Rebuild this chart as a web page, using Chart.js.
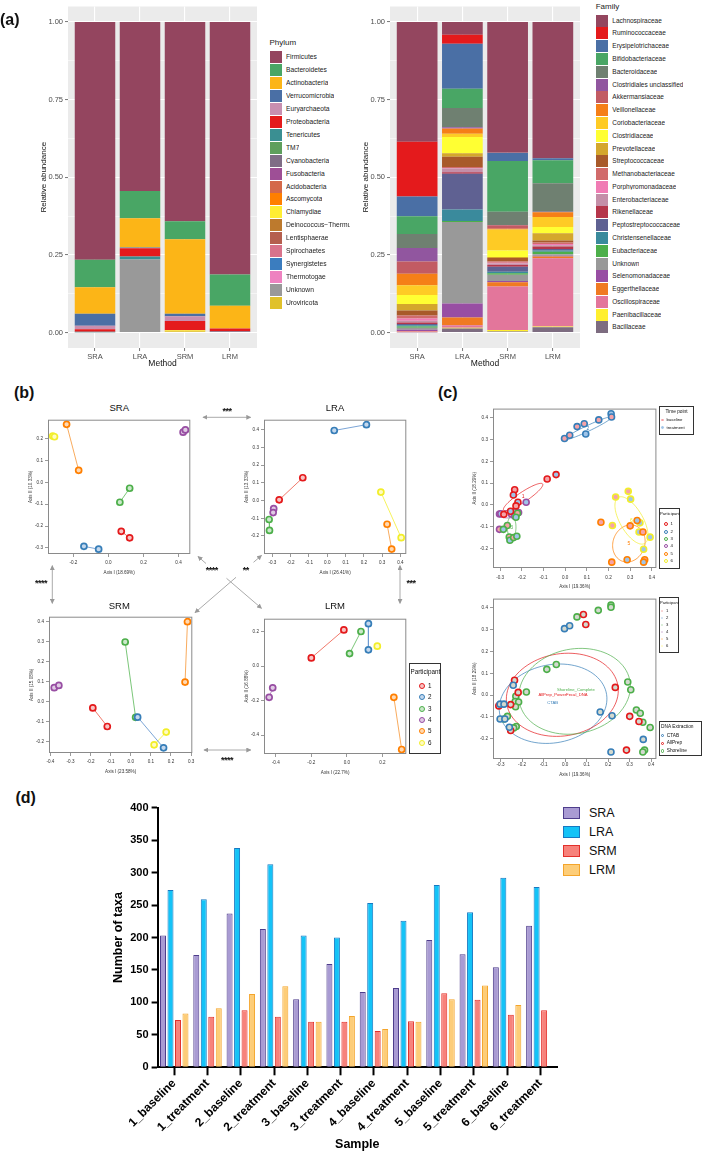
<!DOCTYPE html>
<html>
<head>
<meta charset="utf-8">
<script src="https://cdn.jsdelivr.net/npm/chart.js@4.4.1/dist/chart.umd.min.js"></script>
<style>
  body { margin: 0; background: #fff; font-family: "Liberation Sans", Arial, sans-serif; }
  #page { position: relative; width: 702px; height: 1152px; overflow: hidden; background: #fff; }
  canvas { position: absolute; }
  .t { position: absolute; white-space: nowrap; line-height: 1; color: #111; }
  .box { position: absolute; border: 1px solid #333; background: #fff; box-sizing: border-box; }
  .dot { position: absolute; border-radius: 50%; box-sizing: border-box; }
</style>
</head>
<body>
<div id="page">
  <svg id="arrows" width="702" height="1152" style="position:absolute;left:0;top:0;z-index:5;pointer-events:none">
    <defs>
      <marker id="ah" viewBox="0 0 8 8" refX="7" refY="4" markerWidth="5" markerHeight="5" orient="auto-start-reverse">
        <path d="M0,0 L8,4 L0,8 Z" fill="#999"/>
      </marker>
    </defs>
    <g stroke="#aaa" stroke-width="1" fill="none">
      <line x1="203" y1="417.3" x2="250.7" y2="417.3" marker-start="url(#ah)" marker-end="url(#ah)"/>
      <line x1="52.3" y1="565.7" x2="52.3" y2="603.3" marker-start="url(#ah)" marker-end="url(#ah)"/>
      <line x1="400" y1="565.7" x2="400" y2="603.3" marker-start="url(#ah)" marker-end="url(#ah)"/>
      <line x1="204" y1="750" x2="250.7" y2="750" marker-start="url(#ah)" marker-end="url(#ah)"/>
      <line x1="198" y1="556.5" x2="206" y2="563.5" marker-start="url(#ah)"/>
      <line x1="226.5" y1="578.3" x2="261.5" y2="608.3" marker-end="url(#ah)"/>
      <line x1="261.5" y1="555.5" x2="253.5" y2="562.3" marker-start="url(#ah)"/>
      <line x1="236" y1="577.3" x2="195" y2="612.7" marker-end="url(#ah)"/>
    </g>
  </svg>
</div>
<script>
// ---------- data ----------
const methods = ['SRA', 'LRA', 'SRM', 'LRM'];
const fracTicks = [0, 0.125, 0.25, 0.375, 0.5, 0.625, 0.75, 0.875, 1];

const phylumNames = ['Firmicutes', 'Bacteroidetes', 'Actinobacteria', 'Verrucomicrobia', 'Euryarchaeota',
  'Proteobacteria', 'Tenericutes', 'TM7', 'Cyanobacteria', 'Fusobacteria', 'Acidobacteria', 'Ascomycota',
  'Chlamydiae', 'Deinococcus\u2212Thermus', 'Lentisphaerae', 'Spirochaetes', 'Synergistetes', 'Thermotogae',
  'Unknown', 'Uroviricota'];
const phylumColors = ['#94455f', '#49a665', '#fcb517', '#4a6fa5', '#c88fb0', '#e41a1c', '#3a8f92', '#5e9f5c',
  '#7f6d86', '#9e4f96', '#d4694a', '#ff7f00', '#ffee33', '#bd7a2d', '#b55f4e', '#d9738b', '#3b7dbf',
  '#ee82c0', '#999999', '#e0c12a'];
const phylumSRA = [0.766, 0.088, 0.086, 0.038, 0.012, 0.008, 0.001, 0, 0, 0, 0, 0, 0, 0, 0, 0, 0, 0, 0.001, 0];
const phylumLRA = [0.544, 0.088, 0.094, 0.002, 0.001, 0.026, 0.010, 0, 0, 0, 0, 0, 0, 0, 0, 0, 0, 0, 0.235, 0];
const phylumSRM = [0.642, 0.058, 0.240, 0.008, 0.015, 0.030, 0, 0, 0, 0, 0, 0, 0.003, 0, 0, 0, 0, 0, 0, 0.004];
const phylumLRM = [0.813, 0.101, 0.073, 0, 0, 0.009, 0, 0, 0.004, 0, 0, 0, 0, 0, 0, 0, 0, 0, 0, 0];

const familyNames = ['Lachnospiraceae', 'Ruminococcaceae', 'Erysipelotrichaceae', 'Bifidobacteriaceae',
  'Bacteroidaceae', 'Clostridiales unclassified', 'Akkermansiaceae', 'Veillonellaceae', 'Coriobacteriaceae',
  'Clostridiaceae', 'Prevotellaceae', 'Streptococcaceae', 'Methanobacteriaceae', 'Porphyromonadaceae',
  'Enterobacteriaceae', 'Rikenellaceae', 'Peptostreptococcaceae', 'Christensenellaceae', 'Eubacteriaceae',
  'Unknown', 'Selenomonadaceae', 'Eggerthellaceae', 'Oscillospiraceae', 'Paenibacillaceae', 'Bacillaceae'];
const familyColors = ['#94465f', '#e41a1c', '#4a6fa5', '#49a665', '#6f8071', '#91569f', '#c25b63', '#f57f17',
  '#fecb25', '#ffff33', '#d4a72c', '#a85a2a', '#d16b6b', '#f07cb4', '#c48fa8', '#b5364b', '#5f6192',
  '#3a8a9c', '#4daf4a', '#999999', '#984ea3', '#f07a22', '#e3769b', '#ffef2e', '#7d6c80'];
const familySRA = [0.386, 0.176, 0.064, 0.057, 0.045, 0.043, 0.040, 0.037, 0.031, 0.029, 0.021, 0.016, 0.010,
  0.007, 0.006, 0.005, 0.004, 0.004, 0.004, 0.006, 0.004, 0.002, 0.002, 0.0005, 0.0005];
const familyLRA = [0.041, 0.029, 0.145, 0.062, 0.062, 0.003, 0.002, 0.016, 0.010, 0.053, 0.011, 0.033, 0.003,
  0.002, 0.012, 0.005, 0.115, 0.037, 0.003, 0.263, 0.045, 0.025, 0.008, 0.002, 0.013];
const familySRM = [0.420, 0.001, 0.027, 0.163, 0.043, 0.001, 0.011, 0.002, 0.068, 0.021, 0.003, 0.011, 0.004,
  0.003, 0.005, 0.005, 0.016, 0.005, 0.005, 0.020, 0.004, 0.014, 0.140, 0.005, 0.003];
const familyLRM = [0.439, 0, 0.006, 0.074, 0.092, 0.001, 0.001, 0.015, 0.032, 0.020, 0.024, 0.006, 0.005,
  0.004, 0.004, 0.008, 0.005, 0.004, 0.008, 0.005, 0.002, 0.006, 0.220, 0.002, 0.017];

// participants 1..6
const partColors = ['#e41a1c', '#377eb8', '#4daf4a', '#984ea3', '#ff7f00', '#f2ee2a'];
const lineColors = ['#ee6a5a', '#6d9bd1', '#6cc06a', '#b27cbb', '#f7a24c', '#f5f04a'];
const paleColors = ['#f8c4c4', '#c4d8ee', '#cbe8ca', '#e0cbe4', '#ffd9b3', '#fffbc0'];

// PCoA per method: [baseline, treatment] points per participant
const sraPairs = [[[0.073, -0.224], [0.121, -0.254]], [[-0.140, -0.293], [-0.056, -0.306]],
  [[0.121, -0.027], [0.065, -0.091]], [[0.426, 0.230], [0.439, 0.240]],
  [[-0.239, 0.266], [-0.170, 0.055]], [[-0.318, 0.212], [-0.308, 0.209]]];
const lraPairs = [[[-0.134, 0.129], [-0.263, 0.004]], [[0.038, 0.396], [0.214, 0.429]],
  [[-0.318, -0.107], [-0.316, -0.169]], [[-0.293, -0.046], [-0.296, -0.068]],
  [[0.327, -0.134], [0.352, -0.274]], [[0.293, 0.048], [0.404, -0.210]]];
const srmPairs = [[[-0.189, -0.033], [-0.117, -0.126]], [[0.034, -0.079], [0.163, -0.233]],
  [[-0.028, 0.298], [0.024, -0.080]], [[-0.381, 0.069], [-0.358, 0.080]],
  [[0.282, 0.400], [0.270, 0.097]], [[0.116, -0.218], [0.176, -0.154]]];
const lrmPairs = [[[-0.200, 0.047], [-0.017, 0.209]], [[0.121, 0.245], [0.121, 0.094]],
  [[0.015, 0.072], [0.079, 0.200]], [[-0.437, -0.181], [-0.417, -0.126]],
  [[0.264, -0.181], [0.308, -0.483]], [[0.171, 0.115]]];

const sraXTicks = [-0.2, 0, 0.2, 0.4], sraYTicks = [-0.3, -0.2, -0.1, 0, 0.1, 0.2];
const lraXTicks = [-0.3, -0.2, -0.1, 0, 0.1, 0.2, 0.3, 0.4], lraYTicks = [-0.2, -0.1, 0, 0.1, 0.2, 0.3, 0.4];
const srmXTicks = [-0.4, -0.3, -0.2, -0.1, 0, 0.1, 0.2, 0.3], srmYTicks = [-0.2, -0.1, 0, 0.1, 0.2, 0.3, 0.4];
const lrmXTicks = [-0.4, -0.2, 0, 0.2], lrmYTicks = [-0.4, -0.2, 0, 0.2];
const cXTicks = [-0.3, -0.2, -0.1, 0, 0.1, 0.2, 0.3, 0.4], cYTicks = [-0.2, -0.1, 0, 0.1, 0.2, 0.3, 0.4];

// (c) top: [x, y, timepoint] per participant (0 = baseline, 1 = treatment)
const cTopPoints = [
  [[-0.083, 0.119, 0], [-0.042, 0.139, 1], [-0.233, 0.069, 0], [-0.239, 0.045, 1], [-0.218, 0.012, 1],
   [-0.227, -0.005, 0], [-0.283, -0.044, 0], [-0.252, -0.030, 1]],
  [[-0.003, 0.305, 0], [0.021, 0.320, 0], [0.055, 0.360, 0], [0.088, 0.373, 0], [0.095, 0.326, 1],
   [0.155, 0.391, 0], [0.212, 0.419, 1], [0.214, 0.404, 0]],
  [[-0.267, -0.095, 0], [-0.285, -0.113, 1], [-0.258, -0.148, 0], [-0.255, -0.163, 1], [-0.238, -0.151, 0],
   [-0.223, -0.145, 1], [-0.220, -0.039, 0], [-0.227, -0.057, 1]],
  [[-0.180, 0.012, 1], [-0.303, -0.042, 0], [-0.297, -0.041, 1], [-0.248, -0.042, 0], [-0.233, -0.032, 1],
   [-0.215, -0.036, 0], [-0.233, -0.051, 1], [-0.303, -0.113, 0]],
  [[0.165, -0.080, 0], [0.300, -0.097, 0], [0.332, -0.072, 1], [0.359, -0.125, 0], [0.215, -0.264, 0],
   [0.286, -0.253, 1], [0.367, -0.253, 0], [0.362, -0.264, 1]],
  [[0.233, 0.036, 0], [0.291, 0.062, 0], [0.302, 0.026, 1], [0.218, -0.095, 0], [0.345, -0.083, 1],
   [0.341, -0.125, 1], [0.392, -0.149, 1], [0.362, -0.205, 1]]
];
const timeNames = ['baseline', 'treatment'];
const timeFill = ['#f5a3a8', '#9fc4e8'];
// ellipse: centre c, conjugate half-axes a and b (data units)
const partEllipses = [
  { c: [-0.194, 0.036], a: [0.090, 0.060], b: [0.0127, -0.0187], label: '1' },
  { c: [0.105, 0.352], a: [0.110, 0.052], b: [-0.005, 0.012], label: '2' },
  { c: [-0.247, -0.103], a: [0.020, 0], b: [0, 0.050], label: '3' },
  { c: [-0.255, -0.042], a: [0.050, 0.004], b: [0, 0.018], label: '' },
  { c: [0.294, -0.178], a: [0.075, 0.010], b: [0, 0.085], label: '5' },
  { c: [0.306, -0.072], a: [0.061, -0.106], b: [0.046, 0.026], label: '6' }
];

// (c) bottom: points per DNA extraction
const extractionNames = ['CTAB', 'AllPrep', 'Shoreline'];
const extractionColors = ['#377eb8', '#e41a1c', '#4daf4a'];
const ctabPoints = [[-0.003, 0.305], [0.021, 0.318], [0.163, -0.078], [0.218, -0.095], [0.363, -0.204],
  [0.213, -0.262], [-0.302, -0.042], [-0.284, -0.042], [-0.302, -0.110], [-0.241, 0.045], [-0.259, -0.148],
  [-0.280, -0.110]];
const allprepPoints = [[0.085, 0.370], [0.096, 0.324], [0.233, 0.035], [0.300, -0.098], [0.343, -0.122],
  [0.285, -0.253], [-0.235, 0.068], [-0.218, 0.012], [-0.253, -0.044], [-0.253, -0.163], [-0.308, -0.050]];
const shorelinePoints = [[0.055, 0.359], [0.154, 0.389], [0.213, 0.413], [0.213, 0.403], [-0.041, 0.140],
  [-0.085, 0.118], [-0.180, 0.014], [0.291, 0.060], [0.305, 0.024], [0.331, -0.069], [0.349, -0.084],
  [0.361, -0.125], [0.395, -0.149], [0.369, -0.253], [0.361, -0.262], [-0.229, -0.006], [-0.232, -0.030],
  [-0.216, -0.032], [-0.230, -0.054], [-0.268, -0.098], [-0.284, -0.110], [-0.227, -0.145], [-0.239, -0.151]];
const extractionEllipses = [
  { c: [-0.056, -0.040], a: [0.250, 0.030], b: [-0.010, 0.180], label: 'CTAB', lx: -0.058, ly: -0.036 },
  { c: [-0.013, 0.001], a: [0.260, 0.020], b: [0, 0.190], label: 'AllPrep_PowerFecal_DNA', lx: -0.01, ly: 0.003 },
  { c: [0.044, 0.017], a: [0.259, 0.030], b: [-0.010, 0.195], label: 'Shoreline_Complete', lx: 0.05, ly: 0.022 }
];

// (d) number of taxa
const samples = ['1_baseline', '1_treatment', '2_baseline', '2_treatment', '3_baseline', '3_treatment',
  '4_baseline', '4_treatment', '5_baseline', '5_treatment', '6_baseline', '6_treatment'];
const taxaSRA = [203, 173, 237, 213, 105, 159, 116, 122, 196, 174, 154, 218];
const taxaLRA = [273, 259, 338, 313, 203, 200, 253, 226, 281, 239, 292, 278];
const taxaSRM = [73, 78, 88, 78, 70, 70, 56, 71, 114, 104, 81, 88];
const taxaLRM = [83, 91, 113, 125, 70, 79, 59, 70, 105, 126, 96, null];
const taxaFill = ['#a99bd3', '#14c3f7', '#f7827b', '#fdcd78'];
const taxaEdge = ['#4e3d8c', '#1779c2', '#e3302b', '#f4a52b'];

// ---------- helpers ----------
Chart.defaults.font.family = '"Liberation Sans", Arial, sans-serif';
Chart.defaults.animation = false;
Chart.defaults.responsive = false;
Chart.defaults.events = [];
Chart.defaults.plugins.legend.display = false;
Chart.defaults.plugins.tooltip.enabled = false;

const page = document.getElementById('page');

function makeCanvas(left, top, w, h) {
  const c = document.createElement('canvas');
  c.width = w; c.height = h;
  c.style.left = left + 'px'; c.style.top = top + 'px';
  c.style.width = w + 'px'; c.style.height = h + 'px';
  page.appendChild(c);
  return c;
}

function label(text, x, y, css, anchor) {
  const d = document.createElement('div');
  d.className = 't';
  d.textContent = text;
  const tx = anchor === 'c' ? '-50%' : anchor === 'r' ? '-100%' : '0';
  d.style.cssText = 'left:' + x + 'px;top:' + y + 'px;transform:translate(' + tx + ',-50%);' + (css || '');
  page.appendChild(d);
  return d;
}

function dot(x, y, r, border, fill, bw) {
  const d = document.createElement('div');
  d.className = 'dot';
  d.style.cssText = 'left:' + (x - r) + 'px;top:' + (y - r) + 'px;width:' + 2 * r + 'px;height:' + 2 * r +
    'px;border:' + bw + 'px solid ' + border + ';background:' + fill + ';z-index:6';
  page.appendChild(d);
}

function box(x, y, w, h) {
  const d = document.createElement('div');
  d.className = 'box';
  d.style.cssText = 'left:' + x + 'px;top:' + y + 'px;width:' + w + 'px;height:' + h + 'px;z-index:6';
  page.appendChild(d);
}

const fmt1 = v => (Math.abs(v) < 1e-9 ? 0 : v).toFixed(1);

const panelBg = {
  id: 'panelBg',
  beforeDraw(chart) {
    const { ctx, chartArea: a } = chart;
    ctx.save();
    ctx.fillStyle = '#ebebeb';
    ctx.fillRect(a.left, a.top, a.right - a.left, a.bottom - a.top);
    ctx.restore();
  }
};

const framePlugin = {
  id: 'frame',
  afterDraw(chart, args, opts) {
    const { ctx, chartArea: a } = chart;
    ctx.save();
    ctx.strokeStyle = opts.color || '#8a8a8a';
    ctx.lineWidth = 1;
    ctx.strokeRect(a.left + 0.5, a.top + 0.5, a.right - a.left - 1, a.bottom - a.top - 1);
    ctx.restore();
  }
};

const ellipsePlugin = {
  id: 'ellipses',
  beforeDatasetsDraw(chart, args, opts) {
    const list = opts.items || [];
    const { ctx } = chart;
    const xs = chart.scales.x, ys = chart.scales.y;
    ctx.save();
    list.forEach(e => {
      ctx.beginPath();
      for (let k = 0; k <= 90; k++) {
        const t = k / 90 * Math.PI * 2;
        const vx = e.c[0] + e.a[0] * Math.cos(t) + e.b[0] * Math.sin(t);
        const vy = e.c[1] + e.a[1] * Math.cos(t) + e.b[1] * Math.sin(t);
        const px = xs.getPixelForValue(vx), py = ys.getPixelForValue(vy);
        if (k) ctx.lineTo(px, py); else ctx.moveTo(px, py);
      }
      ctx.strokeStyle = e.color;
      ctx.lineWidth = 0.7;
      ctx.stroke();
      if (e.label) {
        ctx.fillStyle = e.color;
        ctx.font = (opts.fontSize || 5) + 'px "Liberation Sans", Arial';
        ctx.textAlign = 'center';
        ctx.textBaseline = 'middle';
        ctx.fillText(e.label, xs.getPixelForValue(e.lx ?? e.c[0]), ys.getPixelForValue(e.ly ?? e.c[1]));
      }
    });
    ctx.restore();
  }
};

// ---------- (a) stacked bars ----------
function stackChart(left, width, names, colors, cols, yWidth, yTitlePad) {
  const cv = makeCanvas(left, 0, width, 372);
  const datasets = names.map((n, i) => ({
    label: n,
    data: cols.map((col, j) => ({ x: j, y: col[i] })),
    backgroundColor: colors[i],
    borderWidth: 0,
    categoryPercentage: 1,
    barPercentage: 0.9
  })).reverse();
  return new Chart(cv, {
    type: 'bar',
    data: { datasets },
    plugins: [panelBg],
    options: {
      devicePixelRatio: 1,
      layout: { padding: { left: 0, right: 5, top: 0, bottom: 0 } },
      scales: {
        x: {
          type: 'linear', stacked: true, min: -0.6, max: 3.6, offset: false,
          afterBuildTicks: s => { s.ticks = methods.map((m, i) => ({ value: i })); },
          afterFit: s => { s.height = 24; },
          ticks: { callback: v => methods[v], color: '#4d4d4d', font: { size: 7.5 }, padding: 1, autoSkip: false, maxRotation: 0 },
          grid: { color: '#fff', lineWidth: 1.1, offset: false, tickLength: 3, tickColor: '#555', tickWidth: 0.8 },
          border: { display: false },
          title: { display: true, text: 'Method', color: '#111', font: { size: 8.5 }, padding: { top: 0, bottom: 3 } }
        },
        y: {
          stacked: true, min: -0.05, max: 1.05,
          afterBuildTicks: s => { s.ticks = fracTicks.map(v => ({ value: v })); },
          afterFit: s => { s.width = yWidth; },
          ticks: { callback: v => (v % 0.25 === 0 ? v.toFixed(2) : ''), color: '#4d4d4d', font: { size: 7.5 }, padding: 2, autoSkip: false },
          grid: {
            color: '#fff',
            lineWidth: c => (c.tick && c.tick.value % 0.25 === 0 ? 1.1 : 0.5),
            tickLength: 3,
            tickColor: c => (c.tick && c.tick.value % 0.25 === 0 ? '#555' : 'rgba(0,0,0,0)'),
            tickWidth: 0.8
          },
          border: { display: false },
          title: { display: true, text: 'Relative abundance', color: '#111', font: { size: 8 }, padding: { top: yTitlePad, bottom: 0 } }
        }
      }
    }
  });
}

stackChart(0, 262, phylumNames, phylumColors, [phylumSRA, phylumLRA, phylumSRM, phylumLRM], 68, 38.5);
stackChart(340, 245, familyNames, familyColors, [familySRA, familyLRA, familySRM, familyLRM], 50, 21);

function taxaLegend(title, names, colors, x, titleY, y0, step, textX, fs, maxW) {
  label(title, x, titleY, 'font-size:8px;color:#222');
  names.forEach((n, i) => {
    const y = y0 + i * step;
    const sw = document.createElement('div');
    sw.style.cssText = 'position:absolute;left:' + x + 'px;top:' + (y - 6) + 'px;width:12.3px;height:12px;background:' + colors[i];
    page.appendChild(sw);
    label(n, textX, y, 'font-size:' + fs + 'px;color:#222;overflow:hidden;max-width:' + maxW + 'px');
  });
}
taxaLegend('Phylum', phylumNames, phylumColors, 269.5, 43.3, 57.3, 12.92, 286, 6.7, 64);
taxaLegend('Family', familyNames, familyColors, 595.7, 6.7, 20.7, 12.78, 612.3, 6.5, 90);

// ---------- (b) and (c) PCoA ----------
function pcoa(frame, datasets, xr, yr, xt, yt, xTitle, yTitle, opt) {
  const [L, T, R, B] = frame;
  const cv = makeCanvas(L - 22, T - 3, R - L + 25, B - T + 25);
  return new Chart(cv, {
    type: 'scatter',
    data: { datasets },
    plugins: [framePlugin, ellipsePlugin],
    options: {
      devicePixelRatio: 1,
      layout: { padding: { top: 3, right: 3, left: 0, bottom: 0 } },
      plugins: { ellipses: { items: opt.ellipses || [], fontSize: opt.ellFont || 5 }, frame: { color: opt.frameColor } },
      scales: {
        x: {
          type: 'linear', min: xr[0], max: xr[1],
          afterBuildTicks: s => { s.ticks = xt.map(v => ({ value: v })); },
          afterFit: s => { s.height = 22; },
          ticks: { callback: fmt1, color: '#333', font: { size: 4.6 }, padding: opt.xPad, autoSkip: false, maxRotation: 0 },
          grid: { drawOnChartArea: false, tickLength: 3, tickColor: '#555', tickWidth: 0.6 },
          border: { display: false },
          title: { display: true, text: xTitle, color: '#333', font: { size: 4.6 }, padding: { top: 0, bottom: opt.xTitlePad } }
        },
        y: {
          type: 'linear', min: yr[0], max: yr[1],
          afterBuildTicks: s => { s.ticks = yt.map(v => ({ value: v })); },
          afterFit: s => { s.width = 22; },
          ticks: { callback: fmt1, color: '#333', font: { size: 4.6 }, padding: 2, autoSkip: false },
          grid: { drawOnChartArea: false, tickLength: 3, tickColor: '#555', tickWidth: 0.6 },
          border: { display: false },
          title: { display: true, text: yTitle, color: '#333', font: { size: 4.6 }, padding: { top: opt.yTitlePad, bottom: 0 } }
        }
      }
    }
  });
}

function pairSets(pairs) {
  return pairs.map((pts, i) => ({
    data: pts.map(p => ({ x: p[0], y: p[1] })),
    showLine: true,
    borderColor: lineColors[i],
    borderWidth: 0.9,
    pointRadius: 3,
    pointBorderWidth: 1.7,
    pointBorderColor: partColors[i],
    pointBackgroundColor: paleColors[i]
  }));
}

const bOpt = { xPad: 3, xTitlePad: 1, yTitlePad: 2, frameColor: '#8a8a8a' };
pcoa([48, 417, 193, 554], pairSets(sraPairs), [-0.345, 0.467], [-0.328, 0.287], sraXTicks, sraYTicks,
  'Axis I (18.69%)', 'Axis II (10.33%)', bOpt);
pcoa([264, 417, 409, 554], pairSets(lraPairs), [-0.346, 0.432], [-0.302, 0.457], lraXTicks, lraYTicks,
  'Axis I (26.41%)', 'Axis II (13.33%)', bOpt);
pcoa([49, 614, 195, 753], pairSets(srmPairs), [-0.407, 0.306], [-0.259, 0.425], srmXTicks, srmYTicks,
  'Axis I (23.58%)', 'Axis II (15.08%)', bOpt);
pcoa([264, 616, 409, 754], pairSets(lrmPairs), [-0.466, 0.334], [-0.509, 0.274], lrmXTicks, lrmYTicks,
  'Axis I (22.7%)', 'Axis II (16.88%)', bOpt);

// (c) top
const cTopSets = cTopPoints.map((pts, i) => ({
  data: pts.map(p => ({ x: p[0], y: p[1] })),
  pointRadius: 3,
  pointBorderWidth: 1.6,
  pointBorderColor: partColors[i],
  pointBackgroundColor: pts.map(p => timeFill[p[2]])
}));
pcoa([493, 406, 659, 568], cTopSets, [-0.333, 0.421], [-0.291, 0.443], cXTicks, cYTicks,
  'Axis I (19.36%)', 'Axis II (18.29%)',
  { xPad: 4, xTitlePad: 0.6, yTitlePad: 1.3, frameColor: '#8a8a8a',
    ellipses: partEllipses.map((e, i) => Object.assign({ color: partColors[i] }, e)) });

// (c) bottom
const cBotSets = [ctabPoints, allprepPoints, shorelinePoints].map((pts, i) => ({
  data: pts.map(p => ({ x: p[0], y: p[1] })),
  pointRadius: 3,
  pointBorderWidth: 1.6,
  pointBorderColor: extractionColors[i],
  pointBackgroundColor: '#d3d9cf'
}));
pcoa([493, 596, 659, 759], cBotSets, [-0.335, 0.424], [-0.294, 0.443], cXTicks, cYTicks,
  'Axis I (19.36%)', 'Axis II (18.29%)',
  { xPad: 0, xTitlePad: 3.3, yTitlePad: 1.3, frameColor: '#8a8a8a', ellFont: 4.2,
    ellipses: extractionEllipses.map((e, i) => Object.assign({ color: extractionColors[i] }, e)) });

// ---------- (d) grouped bars ----------
const cvD = makeCanvas(100, 795, 462, 357);
new Chart(cvD, {
  type: 'bar',
  data: {
    labels: samples,
    datasets: [taxaSRA, taxaLRA, taxaSRM, taxaLRM].map((vals, i) => ({
      label: methods[i],
      data: vals,
      backgroundColor: taxaFill[i],
      borderColor: taxaEdge[i],
      borderWidth: 1,
      categoryPercentage: 0.9,
      barPercentage: 0.8
    }))
  },
  options: {
    devicePixelRatio: 1,
    layout: { padding: { top: 12.7, right: 5, left: 0, bottom: 0 } },
    scales: {
      x: {
        afterFit: s => { s.height = 84.7; },
        grid: { drawOnChartArea: false, offset: false, tickLength: 8, tickWidth: 2, tickColor: '#000' },
        border: { color: '#000', width: 2 },
        ticks: { maxRotation: 45, minRotation: 45, autoSkip: false, color: '#000', font: { size: 12, weight: 'bold' }, padding: 1 },
        title: { display: true, text: 'Sample', color: '#000', font: { size: 12.5, weight: 'bold' }, padding: { top: 0, bottom: 0 } }
      },
      y: {
        min: 0, max: 400,
        afterFit: s => { s.width = 57.6; },
        ticks: { stepSize: 50, color: '#000', font: { size: 11, weight: 'bold' }, padding: 3 },
        grid: { drawOnChartArea: false, tickLength: 6, tickWidth: 2, tickColor: '#000' },
        border: { color: '#000', width: 2 },
        title: { display: true, text: 'Number of taxa', color: '#000', font: { size: 12.5, weight: 'bold' }, padding: { top: 11.2, bottom: 0 } }
      }
    }
  }
});

methods.forEach((m, i) => {
  const y = [812.7, 831.7, 851, 870][i];
  const sw = document.createElement('div');
  sw.style.cssText = 'position:absolute;box-sizing:border-box;left:563px;top:' + (y - 6) + 'px;width:17px;height:12px;background:' +
    taxaFill[i] + ';border:1.5px solid ' + taxaEdge[i];
  page.appendChild(sw);
  label(m, 589, y, 'font-size:12.5px;color:#111');
});

// ---------- text overlays ----------
label('(a)', 0, 20, 'font-size:16px;font-weight:bold');
label('(b)', 14, 392.5, 'font-size:16px;font-weight:bold');
label('(c)', 438, 393, 'font-size:16px;font-weight:bold');
label('(d)', 15.5, 797.5, 'font-size:16px;font-weight:bold');

label('SRA', 119.3, 407.7, 'font-size:9.5px', 'c');
label('LRA', 335, 407.7, 'font-size:9.5px', 'c');
label('SRM', 119.3, 606, 'font-size:9.5px', 'c');
label('LRM', 335, 606, 'font-size:9.5px', 'c');

const starCss = 'font-size:9px;font-weight:bold;letter-spacing:-0.5px;z-index:7;background:transparent';
label('***', 227, 411, starCss, 'c');
label('****', 41, 583, starCss, 'c');
label('***', 411, 583, starCss, 'c');
label('****', 227, 760, starCss, 'c');
label('****', 211.7, 570, starCss, 'c');
label('**', 245.7, 570, starCss, 'c');

// (b) participant legend
box(409, 663, 32, 91);
label('Participant', 410.5, 672, 'font-size:6.3px;z-index:7');
partColors.forEach((c, i) => {
  const y = 686 + i * 11.35;
  dot(421.7, y, 3, c, paleColors[i], 1.7);
  label(String(i + 1), 428, y, 'font-size:6.3px;z-index:7');
});

// (c) top legends
box(659, 406, 35, 28.5);
label('Time point', 676.5, 411.7, 'font-size:4.8px;z-index:7', 'c');
timeNames.forEach((n, i) => {
  const y = 420 + i * 7.7;
  dot(662.3, y, 1.4, timeFill[i], timeFill[i], 0.5);
  label(n, 666.5, y, 'font-size:4.3px;z-index:7');
});
box(659, 508, 20.5, 60.5);
label('Participant', 660, 514.3, 'font-size:4.2px;z-index:7');
partColors.forEach((c, i) => {
  const y = 524.3 + i * 7.3;
  dot(665.7, y, 2, c, '#fff', 1.1);
  label(String(i + 1), 670.5, y, 'font-size:4.3px;z-index:7');
});

// (c) bottom legends
box(659, 597, 20, 56);
label('Participant', 660, 602.7, 'font-size:4px;z-index:7');
partColors.forEach((c, i) => {
  const y = 611 + i * 7;
  dot(662.3, y, 1.2, paleColors[i], paleColors[i], 0.5);
  label(String(i + 1), 666, y, 'font-size:4.2px;z-index:7');
});
box(659, 721, 43, 35);
label('DNA Extraction', 661, 726.7, 'font-size:4.8px;z-index:7');
extractionNames.forEach((n, i) => {
  const y = 735.7 + i * 7.7;
  dot(662.3, y, 1.8, extractionColors[i], '#fff', 0.9);
  label(n, 666.7, y, 'font-size:4.8px;z-index:7');
});
</script>
</body>
</html>
